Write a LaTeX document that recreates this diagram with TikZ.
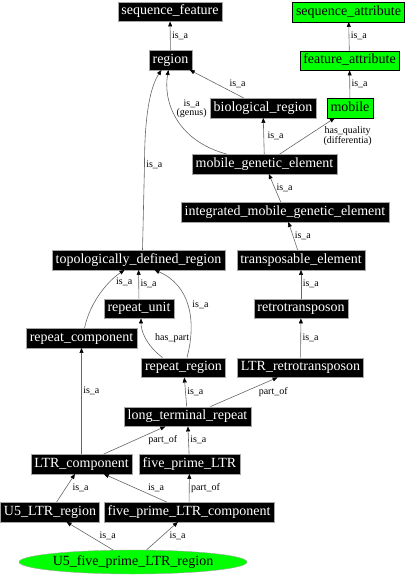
\documentclass[tikz,border=0pt]{standalone}
\usepackage{fontspec}
\setmainfont{Liberation Serif}
\usetikzlibrary{shapes,arrows.meta,positioning,calc}

\begin{document}
\begin{tikzpicture}[
    x=1pt, y=-1pt,
    term/.style={rectangle, draw=gray!70, fill=black, text=white, font=\fontsize{14}{16}\selectfont, inner xsep=3.5pt, inner ysep=3pt, text height=10pt, text depth=3.5pt},
    attr/.style={term, draw=black, fill=green, text=black},
    leaf/.style={ellipse, draw=gray!70, fill=green, font=\fontsize{14}{16}\selectfont, minimum width=228pt, minimum height=24pt, inner sep=0pt},
    rel/.style={draw=black!60, line width=0.6pt, -{Triangle[length=5pt, width=4pt, color=black]}},
    lbl/.style={font=\fontsize{10}{8}\selectfont, inner sep=1.5pt, align=center, text=black}
]
\useasboundingbox (0,0) rectangle (411,576);

% Terms
\node[term] (seqf) at (170,11.5) {sequence\_feature};
\node[attr] (seqa) at (348.5,12) {sequence\_attribute};
\node[term] (region) at (170.5,60) {region};
\node[attr] (feata) at (349.5,60.5) {feature\_attribute};
\node[term] (bio) at (263,108) {biological\_region};
\node[attr] (mobile) at (350,108) {mobile};
\node[term] (mge) at (264.5,164) {mobile\_genetic\_element};
\node[term] (imge) at (285,212) {integrated\_mobile\_genetic\_element};
\node[term] (tdr) at (138.5,260) {topologically\_defined\_region};
\node[term] (te) at (301,260) {transposable\_element};
\node[term] (runit) at (139,308.5) {repeat\_unit};
\node[term] (retro) at (301,308.5) {retrotransposon};
\node[term] (rcomp) at (81.5,338) {repeat\_component};
\node[term] (rregion) at (183.5,367.5) {repeat\_region};
\node[term] (ltrretro) at (300.5,367.5) {LTR\_retrotransposon};
\node[term] (ltr) at (187.5,416.5) {long\_terminal\_repeat};
\node[term] (ltrcomp) at (81.5,464) {LTR\_component};
\node[term] (fltr) at (189.5,464) {five\_prime\_LTR};
\node[term] (u5ltr) at (50,512) {U5\_LTR\_region};
\node[term] (fltrcomp) at (189,512) {five\_prime\_LTR\_component};
\node[leaf] (u5f) at (133,562) {U5\_five\_prime\_LTR\_region};

% Upper part
\draw[rel] (region) -- (seqf) node[lbl, midway, right] {is\_a};
\draw[rel] (feata) -- (seqa) node[lbl, midway, right] {is\_a};
\draw[rel] (mobile) -- (feata) node[lbl, midway, right] {is\_a};
\draw[rel] (bio) -- (region) node[lbl, midway, right=11pt] {is\_a};
\draw[rel] ([xshift=-38pt]mge.north) .. controls +(-51,-14) and +(-5.5,30) .. ([xshift=-2pt]region.south)
    node[lbl, pos=0.6, right=3pt] {is\_a\\(genus)};
\draw[rel] (mge) -- (bio) node[lbl, midway, right=2pt] {is\_a};
\draw[rel] (mge) -- (mobile) node[lbl, midway, right=14.5pt] {has\_quality\\(differentia)};
\draw[rel] (imge) -- (mge) node[lbl, midway, right] {is\_a};
\draw[rel] (te) -- (imge) node[lbl, midway, right] {is\_a};
\draw[rel] ([xshift=4pt]tdr.north) -- ++(2,-85) node[lbl, right] {is\_a}
    .. controls +(0,-55) and +(-10,15) .. ([xshift=-9pt]region.south);

% Repeats
\draw[rel] (retro) -- (te) node[lbl, midway, right] {is\_a};
\draw[rel] (ltrretro) -- (retro) node[lbl, midway, right] {is\_a};
\draw[rel] (runit) -- (tdr) node[lbl, midway, right] {is\_a};
\draw[rel] ([xshift=3pt]rcomp.north) .. controls +(6,-28) and +(-15,10) .. ([xshift=-14pt]tdr.south)
    node[lbl, pos=0.7, right=4pt] {is\_a};
\draw[rel] ([xshift=3.5pt]rregion.north) .. controls +(10,-38) and +(35,15) .. ([xshift=16pt]tdr.south)
    node[lbl, pos=0.5, right=3pt] {is\_a};
\draw[rel] ([xshift=-21pt]rregion.north) .. controls +(-17,-13) and +(0,12) .. ([xshift=2pt]runit.south)
    node[lbl, pos=0.5, right=8pt] {has\_part};
\draw[rel] (ltr) -- (rregion) node[lbl, midway, right] {is\_a};
\draw[rel] (ltr) -- (ltrretro) node[lbl, midway, right=13pt] {part\_of};

% LTR parts
\draw[rel] (ltrcomp) -- (rcomp) node[lbl, pos=0.6, right] {is\_a};
\draw[rel] (ltrcomp) -- (ltr) node[lbl, midway, right=12pt] {part\_of};
\draw[rel] (fltr) -- (ltr) node[lbl, midway, right] {is\_a};
\draw[rel] (u5ltr) -- (ltrcomp) node[lbl, midway, right=5pt] {is\_a};
\draw[rel] (fltrcomp) -- (ltrcomp) node[lbl, midway, right=11pt] {is\_a};
\draw[rel] (fltrcomp) -- (fltr) node[lbl, midway, right] {part\_of};
\draw[rel] (u5f) -- (u5ltr) node[lbl, midway, right=8pt] {is\_a};
\draw[rel] (u5f) -- (fltrcomp) node[lbl, midway, right=5.5pt] {is\_a};

\end{tikzpicture}
\end{document}
